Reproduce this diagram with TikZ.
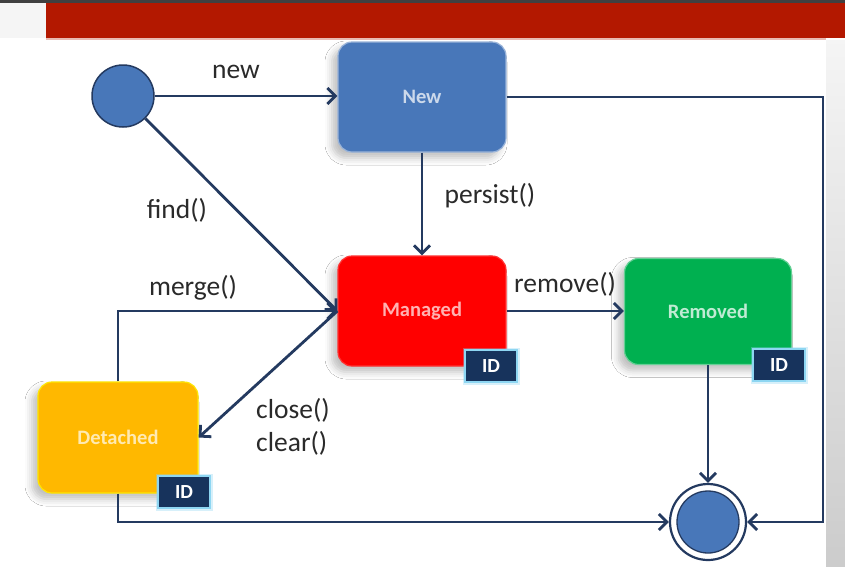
\documentclass[tikz,border=0pt]{standalone}
\usepackage{fontspec}
\setmainfont{Carlito}
\usetikzlibrary{arrows.meta,shadows.blur}
\definecolor{newblue}{HTML}{4877B9}
\definecolor{mred}{HTML}{FF0000}
\definecolor{rgreen}{HTML}{00B050}
\definecolor{dorange}{HTML}{FFB800}
\definecolor{navy}{HTML}{243A60}
\definecolor{idnavy}{HTML}{17335C}
\definecolor{glow}{HTML}{8ED6F2}
\definecolor{barred}{HTML}{B31800}
\definecolor{lbltext}{HTML}{2A2A2A}
\tikzset{
  statebox/.style={rectangle, rounded corners=14pt, inner sep=0pt,
    font=\bfseries\fontsize{20.5}{24}\selectfont, line width=1.2pt,
    blur shadow={shadow xshift=-6pt, shadow yshift=-6pt, shadow blur radius=7pt, shadow opacity=25}},
  idtag/.style={rectangle, fill=idnavy, draw=glow, line width=1.8pt, text=white,
    font=\bfseries\fontsize{20}{24}\selectfont, minimum width=52pt, minimum height=32pt, inner sep=0pt,
    preaction={draw=glow, line width=5pt, opacity=0.35}},
  arr/.style={draw=navy, line width=2.8pt, -{Straight Barb[length=8pt, width=16pt, line width=2.8pt]}},
  lbl/.style={font=\fontsize{27.5}{33}\selectfont, text=lbltext, inner sep=0pt}
}
\begin{document}
\begin{tikzpicture}[x=1pt,y=-1pt]
\useasboundingbox (0,0) rectangle (845,566);
\fill[white] (0,0) rectangle (845,566);
\shade[top color=black!4, bottom color=black!20] (826,40) rectangle (845,566);
\fill[black!4] (0,0) rectangle (46,38);
\fill[barred] (46,0) rectangle (845,38);
\fill[barred!30] (46,38) rectangle (826,40);
\fill[black!75] (0,0) rectangle (845,2.5);

% states
\node[statebox, minimum width=168pt, minimum height=110pt, fill=newblue, draw=newblue!55!white, text=white!72!newblue] (new) at (422,97) {New};
\node[statebox, minimum width=168pt, minimum height=110pt, fill=mred, draw=mred!80!white, text=white!70!mred] (managed) at (422,311) {Managed};
\node[statebox, minimum width=167pt, minimum height=106pt, fill=rgreen, draw=rgreen!60!white, text=white!75!rgreen] (removed) at (708,311.5) {Removed};
\node[statebox, minimum width=160pt, minimum height=111pt, fill=dorange, draw=yellow!80!dorange, text=white!70!dorange] (detached) at (118,437.5) {Detached};

% ID tags
\node[idtag] (idm) at (491,366) {ID};
\node[idtag] (idr) at (779,365) {ID};
\node[idtag] (idd) at (184,492) {ID};

% start / end
\node[circle, minimum size=62pt, inner sep=0pt, fill=newblue, draw=navy, line width=1.5pt] (start) at (123,96) {};
\node[circle, minimum size=76pt, inner sep=0pt, fill=white, draw=navy, line width=2.2pt] (end) at (708,522) {};
\node[circle, minimum size=62pt, inner sep=0pt, fill=newblue, draw=navy, line width=1.3pt] (endin) at (708,522) {};

\coordinate (rc) at (823,97);

% connectors
\draw[arr] (start) -- (start -| new.west);
\draw[arr] (new.east) -- (rc) |- (end.east);
\draw[arr] (new) -- (managed);
\draw[arr] (start) -- (managed.west);
\draw[arr] (detached.north) |- (managed.west);
\draw[arr] (managed.west) -- (detached.east);
\draw[arr] (managed.east) -- (managed.east -| removed.west);
\draw[arr] (removed) -- (end);
\draw[arr] (detached.south) |- (end.west);

% labels
\node[lbl] (lnew) at (236,72) {new};
\node[lbl] (lpersist) at (490,196) {persist()};
\node[lbl] (lfind) at (177,210) {find()};
\node[lbl] (lmerge) at (193,288) {merge()};
\node[lbl] (lremove) at (565,284) {remove()};
\node[lbl, anchor=west] (lclose) at (256,410) {close()};
\node[lbl, anchor=west] (lclear) at (256,443) {clear()};
\end{tikzpicture}
\end{document}
